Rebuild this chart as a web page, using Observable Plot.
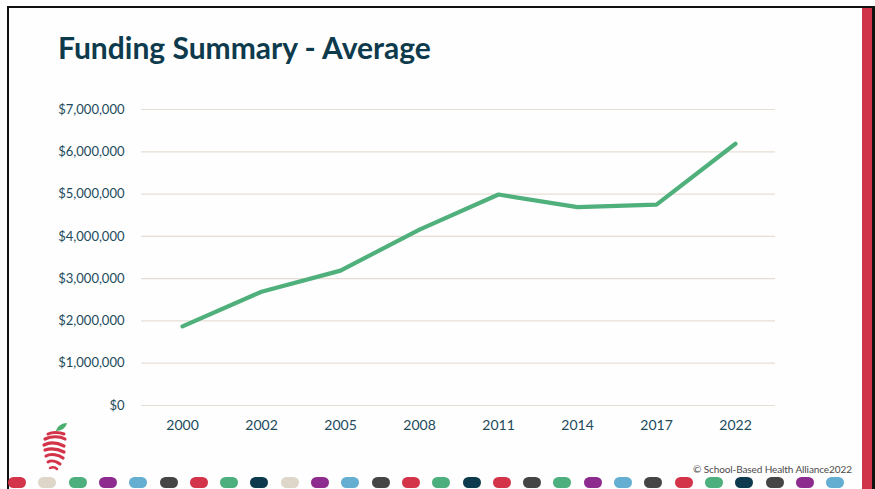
<!DOCTYPE html>
<html>
<head>
<meta charset="utf-8">
<script src="https://cdn.jsdelivr.net/npm/d3@7"></script>
<script src="https://cdn.jsdelivr.net/npm/@observablehq/plot@0.6"></script>
<style>
  html, body { margin: 0; padding: 0; background: #fff; }
  #slide { position: relative; width: 875px; height: 489px; overflow: hidden; background: #fff; font-family: Lato, "Open Sans", sans-serif; }
  #frame { position: absolute; left: 7px; top: 6px; width: 868px; height: 483px; border-top: 2px solid #111; border-left: 2px solid #111; box-sizing: border-box; background: #fefefe; }
  #redbar { position: absolute; left: 862px; top: 8px; width: 10px; height: 481px; background: #d0344a; }
  #rightline { position: absolute; left: 872px; top: 6px; width: 3px; height: 483px; background: #111; }
  #title { position: absolute; left: 58px; top: 29px; font: bold 30px Lato, sans-serif; color: #0d3a4c; letter-spacing: 0px; line-height: 36px; }
  #chart { position: absolute; left: 0; top: 90px; }
  #copy { position: absolute; left: 693px; top: 463px; font: 10px Lato, sans-serif; color: #4a4a4a; letter-spacing: -0.1px; }
  .pill { position: absolute; top: 477px; width: 18px; height: 11px; border-radius: 6px; }
  #logo { position: absolute; left: 40px; top: 418px; }
</style>
</head>
<body>
<div id="slide">
  <div id="frame"></div>
  <div id="redbar"></div>
  <div id="rightline"></div>
  <div id="title">Funding Summary - Average</div>
  <div id="chart"></div>
  <svg id="logo" width="32" height="56" viewBox="0 0 32 56">
    <path d="M16 13 C17 8 22 5 27 5 C26 10 21 13 16 13 Z" fill="#4caf6f"/>
    <path d="M8 16 C12 14 19 14 24 16" stroke="#d3344a" stroke-width="3" fill="none" stroke-linecap="round"/>
    <path d="M5 21 C11 18 20 18 25 21" stroke="#d3344a" stroke-width="3.2" fill="none" stroke-linecap="round"/>
    <path d="M4 27 C10 24 18 25 24 28" stroke="#d3344a" stroke-width="3.2" fill="none" stroke-linecap="round"/>
    <path d="M5 32 C11 30 18 31 24 34" stroke="#d3344a" stroke-width="3.2" fill="none" stroke-linecap="round"/>
    <path d="M6 38 C11 35 19 37 23 40" stroke="#d3344a" stroke-width="3.2" fill="none" stroke-linecap="round"/>
    <path d="M8 44 C11 42 16 43 20 46" stroke="#d3344a" stroke-width="3" fill="none" stroke-linecap="round"/>
    <path d="M10 50 C12 49 15 49 17 51" stroke="#d3344a" stroke-width="2.5" fill="none" stroke-linecap="round"/>
  </svg>
  <div id="copy">© School-Based Health Alliance2022</div>
</div>
<script>
const years = ["2000", "2002", "2005", "2008", "2011", "2014", "2017", "2022"];
const funding = [1870000, 2690000, 3190000, 4160000, 4990000, 4690000, 4750000, 6190000];
const yTicks = [0, 1000000, 2000000, 3000000, 4000000, 5000000, 6000000, 7000000];
const pillColors = ["#d3344a", "#ddd6c9", "#4caf7d", "#8e2b8f", "#64aed1", "#454545", "#d3344a", "#4caf7d", "#0d3a4c", "#ddd6c9", "#8e2b8f", "#64aed1", "#454545", "#d3344a", "#4caf7d", "#0d3a4c", "#d3344a", "#454545", "#4caf7d", "#8e2b8f", "#64aed1", "#454545", "#d3344a", "#4caf7d", "#0d3a4c", "#454545", "#8e2b8f", "#64aed1"];

const data = years.map((y, i) => ({year: y, value: funding[i]}));
const fmt = d3.format("$,.0f");

const chart = Plot.plot({
  width: 875,
  height: 360,
  marginLeft: 141,
  marginRight: 100,
  marginTop: 19,
  marginBottom: 45,
  style: {fontFamily: "Lato, sans-serif", background: "transparent"},
  x: {type: "point", domain: years, padding: 0.5, label: null},
  y: {domain: [0, 7000000], label: null},
  marks: [
    Plot.ruleY(yTicks, {stroke: "#e6ded5", strokeWidth: 1.2}),
    Plot.axisY({ticks: yTicks, tickFormat: fmt, tickSize: 0, tickPadding: 17, fontSize: 13, fill: "#1d4b5c", label: null}),
    Plot.axisX({tickSize: 0, tickPadding: 15, fontSize: 14, fill: "#1d4b5c", label: null}),
    Plot.line(data, {x: "year", y: "value", stroke: "#50b07c", strokeWidth: 4.2, strokeLinecap: "round", strokeLinejoin: "round"})
  ]
});
document.getElementById("chart").appendChild(chart);

const slide = document.getElementById("slide");
pillColors.forEach((c, i) => {
  const d = document.createElement("div");
  d.className = "pill";
  d.style.left = (8 + i * 30.3) + "px";
  d.style.background = c;
  slide.appendChild(d);
});
</script>
</body>
</html>
